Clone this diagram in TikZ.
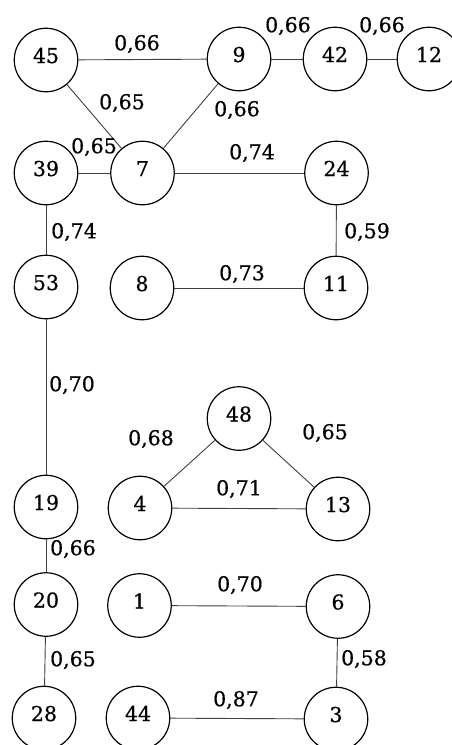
\documentclass[tikz,border=0pt]{standalone}
\usepackage{fontspec}
\setmainfont[FakeBold=0.6]{DejaVu Serif}
\begin{document}
\begin{tikzpicture}[x=1pt,y=-1pt,
  vtx/.style={circle,draw=black,line width=1.2pt,minimum size=63.5pt,inner sep=0pt,
    font=\fontsize{20.5}{22}\selectfont,text height=6pt,text depth=0pt},
  edge/.style={draw=black!75,line width=0.9pt},
  wlab/.style={inner sep=0pt,font=\fontsize{20.5}{22}\selectfont}]
\clip (0,0) rectangle (452,745);
\useasboundingbox (0,0) rectangle (452,745);
% row 1
\node[vtx] (n45) at (46,60) {45};
\node[vtx] (n9)  at (239,59) {9};
\node[vtx] (n42) at (335,59) {42};
\node[vtx] (n12) at (429,59) {12};
% row 2
\node[vtx] (n39) at (46,173) {39};
\node[vtx] (n7)  at (142.5,173) {7};
\node[vtx] (n24) at (336.5,173) {24};
% row 3
\node[vtx] (n53) at (46,287) {53};
\node[vtx] (n8)  at (142,288) {8};
\node[vtx] (n11) at (336,288) {11};
% row 4
\node[vtx] (n48) at (239,418.5) {48};
% row 5
\node[vtx] (n19) at (46,507) {19};
\node[vtx] (n4)  at (140,508) {4};
\node[vtx] (n13) at (338,509) {13};
% row 6
\node[vtx] (n20) at (46,604.5) {20};
\node[vtx] (n1)  at (139.5,605.5) {1};
\node[vtx] (n6)  at (338,606.5) {6};
% row 7
\node[vtx] (n28) at (44,718) {28};
\node[vtx] (n44) at (138,718) {44};
\node[vtx] (n3)  at (336,719) {3};
% edges
\draw[edge] (n45) -- (n9);
\draw[edge] (n9) -- (n42);
\draw[edge] (n42) -- (n12);
\draw[edge] (n45) -- (n7);
\draw[edge] (n9) -- (n7);
\draw[edge] (n39) -- (n7);
\draw[edge] (n7) -- (n24);
\draw[edge] (n39) -- (n53);
\draw[edge] (n24) -- (n11);
\draw[edge] (n8) -- (n11);
\draw[edge] (n53) -- (n19);
\draw[edge] (n4) -- (n48);
\draw[edge] (n48) -- (n13);
\draw[edge] (n4) -- (n13);
\draw[edge] (n19) -- (n20);
\draw[edge] (n1) -- (n6);
\draw[edge] (n20) -- (n28);
\draw[edge] (n6) -- (n3);
\draw[edge] (n44) -- (n3);
% weights
\node[wlab] (w1)  at (137,44) {0,66};
\node[wlab] (w2)  at (288,26) {0,66};
\node[wlab] (w3)  at (382,26) {0,66};
\node[wlab] (w4)  at (122,103) {0,65};
\node[wlab] (w5)  at (237,110) {0,66};
\node[wlab] (w6)  at (94,147) {0,65};
\node[wlab] (w7)  at (252,153) {0,74};
\node[wlab] (w8)  at (74,232) {0,74};
\node[wlab] (w9)  at (367,232) {0,59};
\node[wlab] (w10) at (242,274) {0,73};
\node[wlab] (w11) at (72,385) {0,70};
\node[wlab] (w12) at (151,439) {0,68};
\node[wlab] (w13) at (325,433) {0,65};
\node[wlab] (w14) at (239,489) {0,71};
\node[wlab] (w15) at (73,549) {0,66};
\node[wlab] (w16) at (240,585) {0,70};
\node[wlab] (w17) at (73,660) {0,65};
\node[wlab] (w18) at (364,659) {0,58};
\node[wlab] (w19) at (236,700) {0,87};
\end{tikzpicture}
\end{document}
